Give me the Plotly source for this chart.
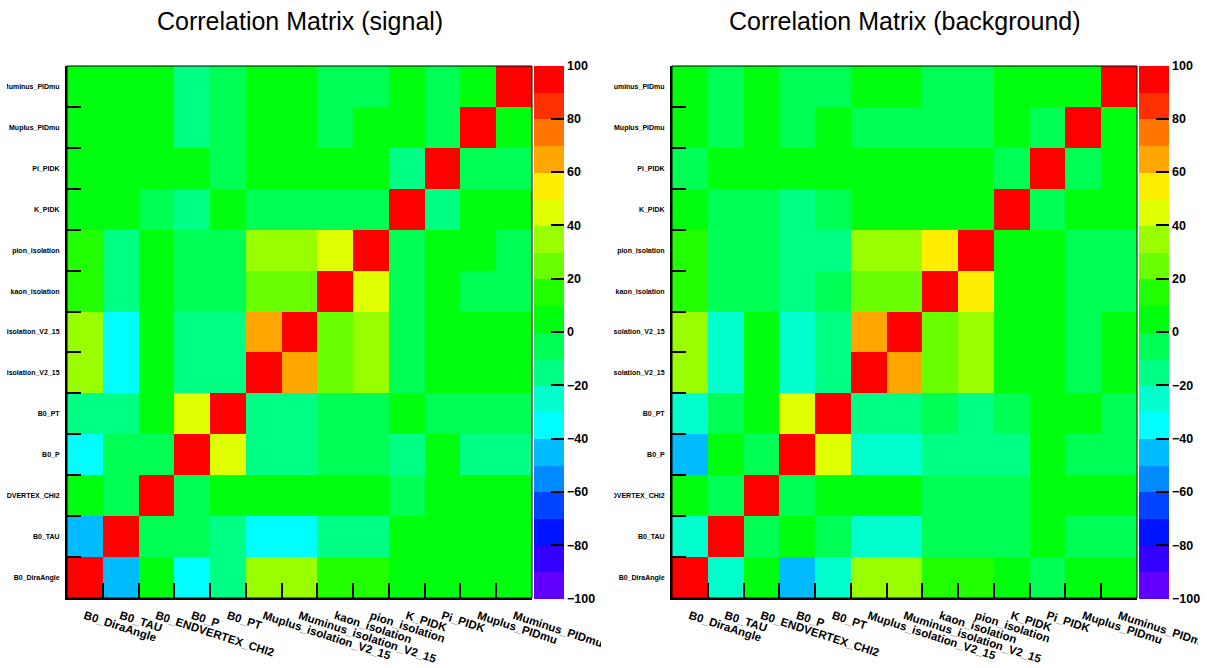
import plotly.graph_objects as go

# ---------------- data ----------------
variables = ["B0_DiraAngle", "B0_TAU", "B0_ENDVERTEX_CHI2", "B0_P", "B0_PT",
             "Muplus_isolation_V2_15", "Muminus_isolation_V2_15", "kaon_isolation",
             "pion_isolation", "K_PIDK", "Pi_PIDK", "Muplus_PIDmu", "Muminus_PIDmu"]

# signal correlation matrix (in %), one list per row (row = y variable)
sig_B0_DiraAngle   = [100, -45, 3, -36, -14, 34, 34, 15, 14, 2, 1, 2, 1]
sig_B0_TAU         = [-45, 100, -4, -3, -13, -36, -35, -15, -14, 1, 2, 1, 2]
sig_B0_ENDVERTEX   = [3, -4, 100, -5, 4, 2, 3, 1, 2, -3, 1, 2, 1]
sig_B0_P           = [-36, -3, -5, 100, 45, -14, -15, -5, -6, -13, 2, -12, -14]
sig_B0_PT          = [-14, -13, 4, 45, 100, -14, -13, -4, -5, 3, -6, -4, -5]
sig_Muplus_iso     = [34, -36, 2, -14, -14, 100, 66, 25, 34, -5, 2, 3, 1]
sig_Muminus_iso    = [34, -35, 3, -15, -13, 66, 100, 26, 35, -4, 1, 2, 3]
sig_kaon_iso       = [15, -15, 1, -5, -4, 25, 26, 100, 45, -6, 2, -4, -5]
sig_pion_iso       = [14, -14, 2, -6, -5, 34, 35, 45, 100, -5, 1, 2, -4]
sig_K_PIDK         = [2, 1, -3, -13, 3, -5, -4, -6, -5, 100, -14, 2, 3]
sig_Pi_PIDK        = [1, 2, 1, 2, -6, 2, 1, 2, 1, -14, 100, -4, -5]
sig_Muplus_PIDmu   = [2, 1, 2, -12, -4, 3, 2, -4, 2, 2, -4, 100, 3]
sig_Muminus_PIDmu  = [1, 2, 1, -14, -5, 1, 3, -5, -4, 3, -5, 3, 100]

# background correlation matrix (in %)
bkg_B0_DiraAngle   = [100, -26, 2, -45, -25, 34, 35, 15, 14, 3, -4, 2, 1]
bkg_B0_TAU         = [-26, 100, -5, 2, -4, -26, -25, -5, -4, -6, 1, -3, -4]
bkg_B0_ENDVERTEX   = [2, -5, 100, -4, 3, 2, 1, -5, -3, -4, 2, 1, 3]
bkg_B0_P           = [-45, 2, -4, 100, 44, -25, -26, -15, -14, -13, 2, -5, -4]
bkg_B0_PT          = [-25, -4, 3, 44, 100, -14, -13, -5, -14, -4, 2, 1, -5]
bkg_Muplus_iso     = [34, -26, 2, -25, -14, 100, 66, 26, 34, 2, 1, -4, 3]
bkg_Muminus_iso    = [35, -25, 1, -26, -13, 66, 100, 25, 35, 3, 2, -5, 2]
bkg_kaon_iso       = [15, -5, -5, -15, -5, 26, 25, 100, 55, 2, 1, -4, -5]
bkg_pion_iso       = [14, -4, -3, -14, -14, 34, 35, 55, 100, 1, 3, -5, -4]
bkg_K_PIDK         = [3, -6, -4, -13, -4, 2, 3, 2, 1, 100, -5, 2, 1]
bkg_Pi_PIDK        = [-4, 1, 2, 2, 2, 1, 2, 1, 3, -5, 100, -6, 2]
bkg_Muplus_PIDmu   = [2, -3, 1, -5, 1, -4, -5, -4, -5, 2, -6, 100, 3]
bkg_Muminus_PIDmu  = [1, -4, 3, -4, -5, 3, 2, -5, -4, 1, 2, 3, 100]

colorbar_ticks = [-100, -80, -60, -40, -20, 0, 20, 40, 60, 80, 100]
titles = ["Correlation Matrix (signal)", "Correlation Matrix (background)"]

signal_z = [sig_B0_DiraAngle, sig_B0_TAU, sig_B0_ENDVERTEX, sig_B0_P, sig_B0_PT,
            sig_Muplus_iso, sig_Muminus_iso, sig_kaon_iso, sig_pion_iso,
            sig_K_PIDK, sig_Pi_PIDK, sig_Muplus_PIDmu, sig_Muminus_PIDmu]
background_z = [bkg_B0_DiraAngle, bkg_B0_TAU, bkg_B0_ENDVERTEX, bkg_B0_P, bkg_B0_PT,
                bkg_Muplus_iso, bkg_Muminus_iso, bkg_kaon_iso, bkg_pion_iso,
                bkg_K_PIDK, bkg_Pi_PIDK, bkg_Muplus_PIDmu, bkg_Muminus_PIDmu]

# ---------------- style ----------------
W, H = 1210, 668
palette = ["#6200ff", "#3300ff", "#0014ff", "#0044ff", "#008bff", "#00bbff",
           "#00fffc", "#00ffcc", "#00ff85", "#00ff55", "#00ff0e", "#22ff00",
           "#69ff00", "#99ff00", "#e0ff00", "#ffee00", "#ffa700", "#ff7700",
           "#ff3000", "#ff0000"]
colorscale = []
n = len(palette)
for i, c in enumerate(palette):
    colorscale.append([i / n, c])
    colorscale.append([(i + 1) / n, c])

FONT = "Liberation Sans, Arial, Helvetica, sans-serif"

frames = [(67, 532), (672, 1137)]
ytop, ybot = 66, 598
yd = [1 - ybot / H, 1 - ytop / H]

fig = go.Figure()
for k, (z, (x0, x1)) in enumerate(zip([signal_z, background_z], frames)):
    sfx = "" if k == 0 else "2"
    fig.add_trace(go.Heatmap(
        z=z, x=variables, y=variables,
        xaxis="x" + sfx, yaxis="y" + sfx,
        coloraxis="coloraxis" + sfx, xgap=0, ygap=0,
    ))
    ax = dict(
        domain=[x0 / W, x1 / W], type="category", anchor="y" + sfx,
        tickson="boundaries", ticks="inside", ticklen=15, tickwidth=2,
        tickcolor="black", tickangle=18, showgrid=False, zeroline=False,
        showline=True, linewidth=2, linecolor="black", automargin=False,
        tickfont=dict(family=FONT, size=11.5, color="black", weight="bold"),
        range=[-0.5, 12.5], ticklabelstandoff=5,
    )
    ay = dict(
        domain=yd, type="category", anchor="x" + sfx,
        tickson="boundaries", ticks="inside", ticklen=14, tickwidth=2,
        tickcolor="black", showgrid=False, zeroline=False, automargin=False,
        showline=True, linewidth=2, linecolor="black",
        tickfont=dict(family=FONT, size=7, color="black", weight="bold"),
        range=[-0.5, 12.5], ticklabelstandoff=4,
    )
    fig.layout["xaxis" + sfx] = ax
    fig.layout["yaxis" + sfx] = ay
    fig.layout["coloraxis" + sfx] = dict(
        cmin=-100, cmax=100, colorscale=colorscale,
        colorbar=dict(
            x=(x1 + 2) / W, xanchor="left", xpad=0, ypad=0,
            y=(yd[0] + yd[1]) / 2, yanchor="middle",
            thickness=30, thicknessmode="pixels",
            len=ybot - ytop + 1, lenmode="pixels",
            outlinewidth=0, tickvals=colorbar_ticks,
            ticks="inside", ticklen=13, tickwidth=1.5, tickcolor="black",
            tickfont=dict(family=FONT, size=12.5, color="black", weight="bold"),
        ),
    )
    # thin top/right frame
    fig.add_shape(type="rect", xref="x%s domain" % sfx, yref="y%s domain" % sfx,
                  x0=0, x1=1, y0=0, y1=1, line=dict(color="black", width=1),
                  layer="above")
    fig.add_annotation(text=titles[k], xref="paper", yref="paper",
                       x=(x0 + x1) / 2 / W, y=1 - 21 / H, xanchor="center",
                       yanchor="middle", showarrow=False,
                       font=dict(family=FONT, size=25, color="black"))

# pad clipping of long labels (left pad ends at x=605)
for (cx0, cx1, cy0, cy1) in [(0, 7, 60, 600), (567, 614, 60, 600),
                             (601, 614, 600, 668), (1198, 1210, 600, 668)]:
    fig.add_shape(type="rect", xref="paper", yref="paper",
                  x0=cx0 / W, x1=cx1 / W, y0=1 - cy1 / H, y1=1 - cy0 / H,
                  fillcolor="white", line=dict(width=0), layer="above")

fig.update_layout(width=W, height=H,
                  margin=dict(l=0, r=0, t=0, b=0, autoexpand=False),
                  paper_bgcolor="white", plot_bgcolor="white", showlegend=False)
fig.write_html("out.html", config={"displayModeBar": False},
               post_script="document.body.style.margin='0';"
                           "document.body.style.overflow='hidden';")
